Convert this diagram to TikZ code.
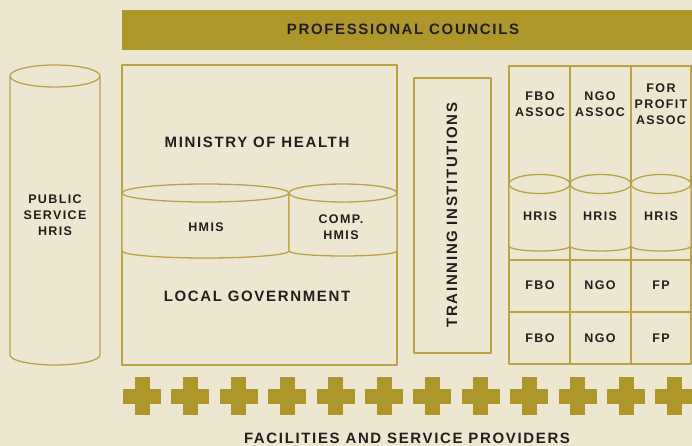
\documentclass[tikz,border=0pt]{standalone}
\usepackage{fontspec}
\setmainfont{Liberation Sans}
\newfontfamily\lbl{Liberation Sans Bold}[LetterSpace=11]
\definecolor{bg}{HTML}{EDE7D1}
\definecolor{gold}{HTML}{AD962A}
\definecolor{ln}{HTML}{B9A345}
\definecolor{ink}{HTML}{221F1C}
\newcommand\mycyl[6]{%
  \draw[frame] (#1,#3) -- (#1,#5) arc[start angle=180,end angle=0,x radius={(#2-#1)/2},y radius=#6] -- (#2,#3);
  \draw[frame] ({(#1+#2)/2},#3) ellipse[x radius={(#2-#1)/2}, y radius=#4];}
\begin{document}
\begin{tikzpicture}[x=1pt,y=-1pt,line join=round,
  big/.style={font=\lbl\fontsize{15}{18}\selectfont,text=ink,align=center,inner sep=0pt},
  small/.style={font=\lbl\fontsize{12.5}{16}\selectfont,text=ink,align=center,inner sep=0pt},
  frame/.style={draw=ln,line width=1.3pt,fill=bg}]
\fill[bg] (0,0) rectangle (692,446);
\useasboundingbox (0,0) rectangle (692,446);
% professional councils bar
\fill[gold] (122,10) rectangle (692,50);
\node[big] (pc) at (403,29) {PROFESSIONAL COUNCILS};
% public service HRIS
\mycyl{10}{100}{76}{11}{355}{10}
\node[small] (psh) at (55,215) {PUBLIC\\SERVICE\\HRIS};
% ministry / local government
\draw[frame] (122,65) rectangle (397,365);
\mycyl{122}{289}{193}{9}{251}{7}
\mycyl{289}{397}{193}{9}{251}{5}
\node[big] (moh) at (257,142) {MINISTRY OF HEALTH};
\node[small] (hmis) at (206,227) {HMIS};
\node[small] (comp) at (341,227.5) {COMP.\\HMIS};
\node[big] (lg) at (257,296) {LOCAL GOVERNMENT};
% training institutions
\draw[frame] (414,78) rectangle (491,353);
\node[big,rotate=90] (ti) at (452,215) {TRAINNING INSTITUTIONS};
% right grid
\draw[frame] (509,66) rectangle (691,364);
\draw[ln,line width=1.3pt] (570,66) -- (570,364) (631,66) -- (631,364)
  (509,260) -- (691,260) (509,312) -- (691,312);
\mycyl{509}{570}{184}{9.5}{246}{5}
\mycyl{570}{631}{184}{9.5}{246}{5}
\mycyl{631}{691}{184}{9.5}{246}{5}
\node[small] (fbA) at (540,104) {FBO\\ASSOC};
\node[small] (ngA) at (600,104) {NGO\\ASSOC};
\node[small] (fpA) at (661,104) {FOR\\PROFIT\\ASSOC};
\node[small] (h1) at (540,216) {HRIS};
\node[small] (h2) at (600,216) {HRIS};
\node[small] (h3) at (661,216) {HRIS};
\node[small] (f1) at (540,285) {FBO};
\node[small] (n1) at (600,285) {NGO};
\node[small] (p1) at (661,285) {FP};
\node[small] (f2) at (540,338) {FBO};
\node[small] (n2) at (600,338) {NGO};
\node[small] (p2) at (661,338) {FP};
% crosses
\foreach \i in {0,...,11}{
  \fill[gold] ({142+48.4*\i-19},389) rectangle ++(38,15);
  \fill[gold] ({142+48.4*\i-7.5},377) rectangle ++(15,38);
}
\node[big] (fac) at (407,438) {FACILITIES AND SERVICE PROVIDERS};
\end{tikzpicture}
\end{document}
